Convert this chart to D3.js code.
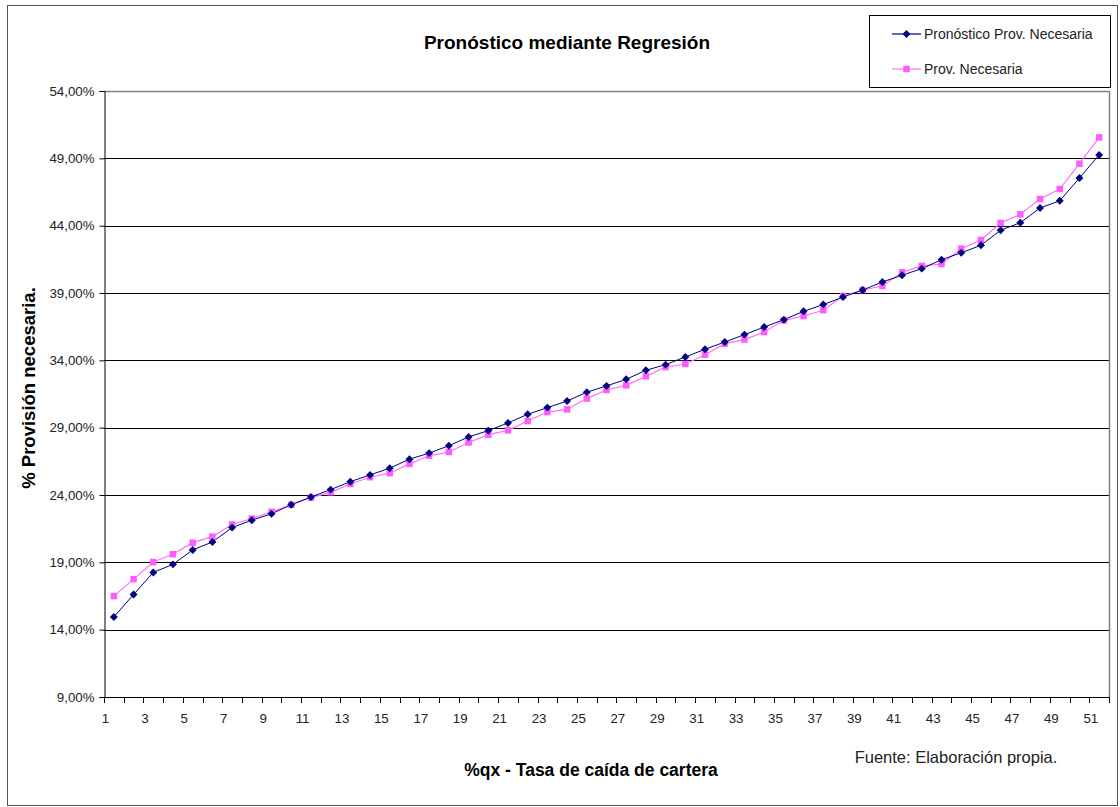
<!DOCTYPE html>
<html>
<head>
<meta charset="utf-8">
<script src="https://cdn.jsdelivr.net/npm/d3@7"></script>
<style>
  html, body { margin: 0; padding: 0; background: #fff; }
  svg { display: block; font-family: "Liberation Sans", Arial, sans-serif; }
</style>
</head>
<body>
<svg id="chart" width="1120" height="807"></svg>
<script>
// ---- data ----
const categories = d3.range(1, 52); // 1..51
const pronostico = [
  14.94, 16.61, 18.25, 18.85, 19.92, 20.51, 21.58, 22.13, 22.60, 23.28,
  23.85, 24.40, 24.99, 25.49, 25.99, 26.66, 27.11, 27.66, 28.31, 28.78,
  29.35, 29.99, 30.49, 30.98, 31.63, 32.10, 32.59, 33.26, 33.68, 34.25,
  34.82, 35.36, 35.91, 36.47, 37.02, 37.64, 38.14, 38.70, 39.22, 39.82,
  40.32, 40.81, 41.47, 41.99, 42.54, 43.66, 44.22, 45.31, 45.85, 47.54,
  49.25
];
const provNecesaria = [
  16.49, 17.75, 19.02, 19.60, 20.46, 20.91, 21.81, 22.25, 22.75, 23.28,
  23.80, 24.20, 24.82, 25.32, 25.62, 26.31, 26.91, 27.19, 27.90, 28.48,
  28.80, 29.49, 30.16, 30.36, 31.16, 31.80, 32.14, 32.81, 33.50, 33.73,
  34.42, 35.24, 35.54, 36.10, 36.97, 37.29, 37.72, 38.78, 39.22, 39.52,
  40.54, 41.01, 41.15, 42.29, 42.94, 44.20, 44.84, 45.98, 46.72, 48.60,
  50.55
];
const yTicks = [9, 14, 19, 24, 29, 34, 39, 44, 49, 54];
const xTickLabels = categories.filter(d => d % 2 === 1);
const seriesNames = ["Pronóstico Prov. Necesaria", "Prov. Necesaria"];
const titleText = "Pronóstico mediante Regresión";
const yTitle = "% Provisión necesaria.";
const xTitle = "%qx - Tasa de caída de cartera";
const sourceText = "Fuente: Elaboración propia.";

// ---- layout ----
const svg = d3.select("#chart");
const plot = { left: 104, right: 1109, top: 91, bottom: 697 };
const blue = "#000080", pink = "#ff5cff", pinkLine = "#ff70ff";

// outer chart border
svg.append("rect").attr("x", 7.5).attr("y", 5.5).attr("width", 1110).attr("height", 800)
  .attr("fill", "#fff").attr("stroke", "#555").attr("stroke-width", 1);

// scales: band for category slots, linear for values
const x = d3.scaleBand().domain(categories).range([plot.left, plot.right]).paddingInner(0).paddingOuter(0);
const xc = d => x(d) + x.bandwidth() / 2;
const y = d3.scaleLinear().domain([9, 54]).range([plot.bottom, plot.top]);
const fmt = v => d3.format(".2f")(v).replace(".", ",") + "%";

// gridlines
svg.append("g").selectAll("line").data(yTicks.filter(t => t !== 9 && t !== 54)).join("line")
  .attr("x1", plot.left).attr("x2", plot.right)
  .attr("y1", d => Math.round(y(d)) + 0.5).attr("y2", d => Math.round(y(d)) + 0.5)
  .attr("stroke", "#000").attr("stroke-width", 1);

// plot border (top/right gray)
svg.append("path")
  .attr("d", `M${plot.left},${plot.top + 0.5}H${plot.right + 0.5}V${plot.bottom}`)
  .attr("fill", "none").attr("stroke", "#808080").attr("stroke-width", 1.5);

// y axis
const yAxis = d3.axisLeft(y).tickValues(yTicks).tickFormat(fmt).tickSize(5).tickPadding(5);
const gy = svg.append("g").attr("transform", `translate(${plot.left + 0.5},0)`).call(yAxis);
gy.select(".domain").attr("stroke", "#000");
gy.selectAll(".tick line").attr("stroke", "#000");
gy.selectAll(".tick text").attr("font-size", 13.3).attr("fill", "#222")
  .attr("font-family", "'Liberation Sans', Arial, sans-serif");

// x axis: ticks at category boundaries, labels at boundary before each odd category
const boundaries = d3.range(0, categories.length + 1).map(i => plot.left + i * x.bandwidth());
const gx = svg.append("g");
gx.append("line").attr("x1", plot.left).attr("x2", plot.right + 0.5)
  .attr("y1", plot.bottom + 0.5).attr("y2", plot.bottom + 0.5).attr("stroke", "#000");
gx.selectAll("line.tk").data(boundaries).join("line").attr("class", "tk")
  .attr("x1", d => Math.round(d) + 0.5).attr("x2", d => Math.round(d) + 0.5)
  .attr("y1", plot.bottom).attr("y2", plot.bottom + 6).attr("stroke", "#000");
gx.selectAll("text").data(xTickLabels).join("text")
  .attr("x", d => x(d) + 1.5).attr("y", plot.bottom + 26)
  .attr("text-anchor", "middle").attr("font-size", 13.3).attr("fill", "#222")
  .text(d => d);

// lines
const line = d3.line().x((d, i) => xc(categories[i])).y(d => y(d));
svg.append("path").datum(provNecesaria).attr("d", line)
  .attr("fill", "none").attr("stroke", pinkLine).attr("stroke-width", 1.2);
svg.append("path").datum(pronostico).attr("d", line)
  .attr("fill", "none").attr("stroke", blue).attr("stroke-width", 1);

// markers
const diamond = d3.symbol().type(d3.symbolDiamond2).size(40);
const square = d3.symbol().type(d3.symbolSquare).size(42);
svg.append("g").selectAll("path").data(provNecesaria).join("path")
  .attr("d", square)
  .attr("transform", (d, i) => `translate(${xc(categories[i])},${y(d)})`)
  .attr("fill", pink);
svg.append("g").selectAll("path").data(pronostico).join("path")
  .attr("d", diamond)
  .attr("transform", (d, i) => `translate(${xc(categories[i])},${y(d)})`)
  .attr("fill", blue);

// title
svg.append("text").attr("x", 567).attr("y", 48.5).attr("text-anchor", "middle")
  .attr("font-size", 19).attr("font-weight", "bold").attr("fill", "#000").text(titleText);

// axis titles
svg.append("text").attr("transform", "translate(35,388) rotate(-90)").attr("text-anchor", "middle")
  .attr("font-size", 18.5).attr("font-weight", "bold").attr("fill", "#000").text(yTitle);
svg.append("text").attr("x", 591).attr("y", 776).attr("text-anchor", "middle")
  .attr("font-size", 17.5).attr("font-weight", "bold").attr("fill", "#000").text(xTitle);
svg.append("text").attr("x", 956).attr("y", 763).attr("text-anchor", "middle")
  .attr("font-size", 16.5).attr("fill", "#222").text(sourceText);

// legend
const lg = svg.append("g");
lg.append("rect").attr("x", 869.5).attr("y", 15.5).attr("width", 241).attr("height", 72)
  .attr("fill", "#fff").attr("stroke", "#000").attr("stroke-width", 1);
const legendItems = [
  { name: seriesNames[0], color: blue, sym: diamond, y: 34 },
  { name: seriesNames[1], color: pink, sym: square, y: 69 }
];
legendItems.forEach(it => {
  lg.append("line").attr("x1", 892).attr("x2", 921).attr("y1", it.y).attr("y2", it.y)
    .attr("stroke", it.color === blue ? blue : pinkLine).attr("stroke-width", 1.2);
  lg.append("path").attr("d", it.sym).attr("transform", `translate(906.5,${it.y})`).attr("fill", it.color);
  lg.append("text").attr("x", 924).attr("y", it.y + 5).attr("font-size", 14).attr("fill", "#222").text(it.name);
});
</script>
</body>
</html>
